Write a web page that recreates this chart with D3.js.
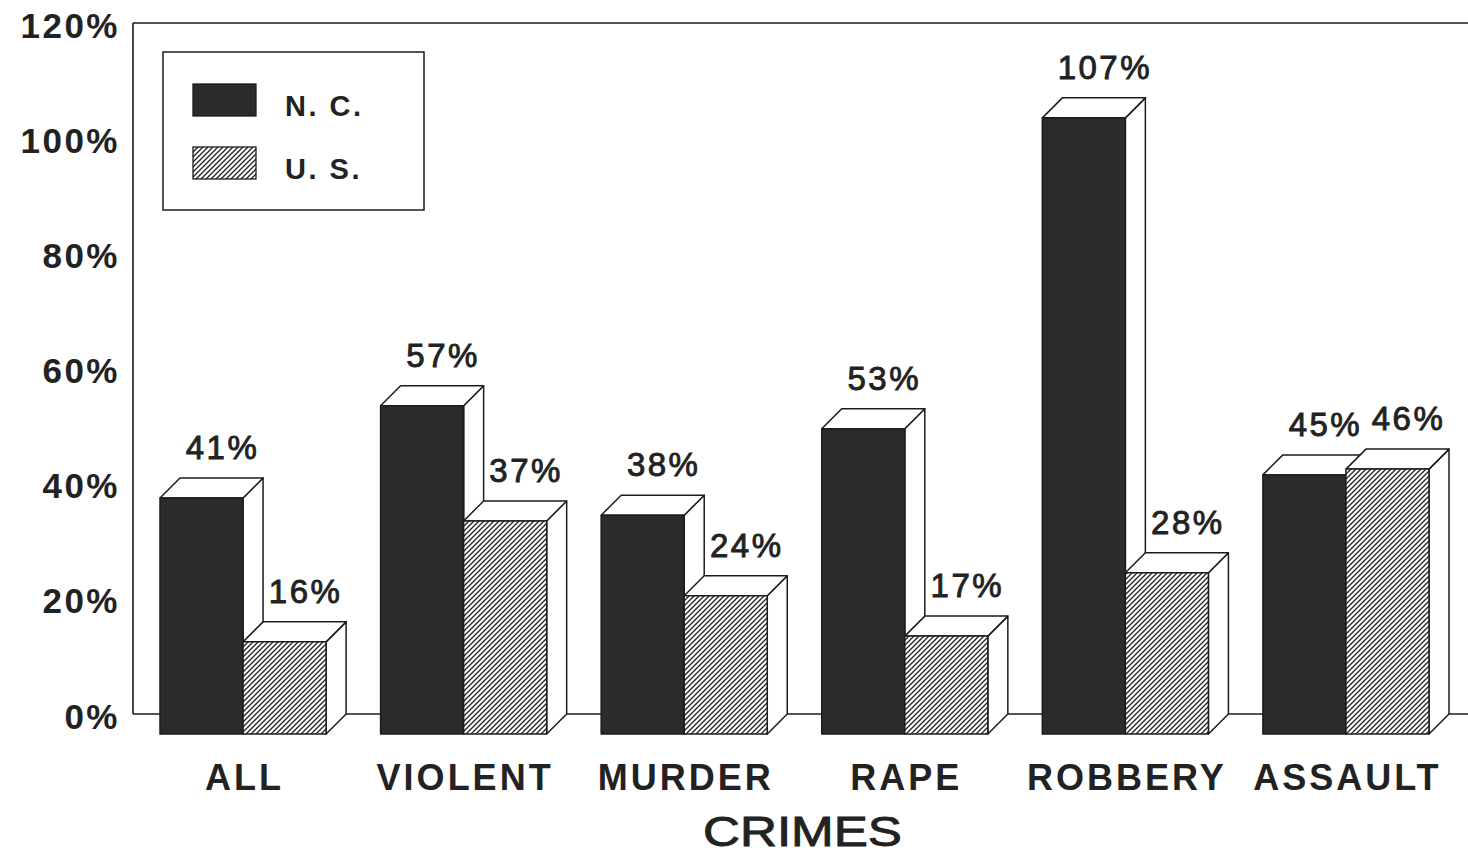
<!DOCTYPE html>
<html>
<head>
<meta charset="utf-8">
<script src="https://cdn.jsdelivr.net/npm/d3@7"></script>
<style>
  html, body { margin: 0; padding: 0; background: #fff; }
  svg { display: block; }
  text { font-family: "Liberation Sans", Arial, Helvetica, sans-serif; fill: #222; }
</style>
</head>
<body>
<svg id="chart" width="1468" height="858"></svg>
<script>
// Percentage change in crime, North Carolina vs. United States
const categories = ["ALL", "VIOLENT", "MURDER", "RAPE", "ROBBERY", "ASSAULT"];
const ncValues = [41, 57, 38, 53, 107, 45];
const usValues = [16, 37, 24, 17, 28, 46];
const seriesNames = ["N. C.", "U. S."];
const yTickValues = [0, 20, 40, 60, 80, 100, 120];
const xAxisTitle = "CRIMES";

const svg = d3.select("#chart");
const ink = "#1c1c1c";
const darkFill = "#2b2b2b";
const depth = 20;          // 3-D offset of the back face (right and up)

// scales
const y = d3.scaleLinear().domain([0, 120]).range([714, 23]);
const x = d3.scaleBand().domain(categories).range([160, 1429]).paddingInner(0.247).paddingOuter(0);
const xs = d3.scaleBand().domain(seriesNames).range([0, x.bandwidth()]).padding(0);

const plotLeft = 133, plotRight = 1468;

// hatch pattern for U.S. bars
const defs = svg.append("defs");
const pat = defs.append("pattern")
  .attr("id", "hatch")
  .attr("patternUnits", "userSpaceOnUse")
  .attr("width", 5).attr("height", 5);
pat.append("rect").attr("width", 5).attr("height", 5).attr("fill", "#fff");
pat.append("path")
  .attr("d", "M-1,1 l2,-2 M0,5 l5,-5 M4,6 l2,-2")
  .attr("stroke", "#222").attr("stroke-width", 1.3);

// frame: left axis, top line, baseline
svg.append("line").attr("x1", plotLeft).attr("x2", plotLeft).attr("y1", y(120)).attr("y2", y(0))
  .attr("stroke", ink).attr("stroke-width", 1.6);
svg.append("line").attr("x1", plotLeft).attr("x2", plotRight).attr("y1", y(120)).attr("y2", y(120))
  .attr("stroke", ink).attr("stroke-width", 1.6);
svg.append("line").attr("x1", plotLeft).attr("x2", plotRight).attr("y1", y(0)).attr("y2", y(0))
  .attr("stroke", ink).attr("stroke-width", 1.6);

// y axis labels
const yAxis = d3.axisLeft(y).tickValues(yTickValues).tickSize(0).tickPadding(0)
  .tickFormat(d => d + "%");
const yg = svg.append("g").attr("transform", `translate(${plotLeft},0)`).call(yAxis);
yg.select(".domain").remove();
yg.selectAll("text")
  .attr("x", -13)
  .attr("dy", "0.40em")
  .attr("font-family", "'Liberation Sans', Arial, sans-serif")
  .attr("font-size", 35)
  .attr("font-weight", "bold")
  .attr("letter-spacing", 2.5)
  .attr("fill", "#222");

// 3-D bar
function bar3d(g, x0, w, v, fillFront) {
  const y0 = y(0), yb = y(v);
  const stroke = { stroke: ink, "stroke-width": 1.5, "stroke-linejoin": "round" };
  const side = [[x0 + w, yb + depth], [x0 + w + depth, yb], [x0 + w + depth, y0], [x0 + w, y0 + depth]];
  const top = [[x0, yb + depth], [x0 + depth, yb], [x0 + w + depth, yb], [x0 + w, yb + depth]];
  const poly = pts => "M" + pts.map(p => p.join(",")).join("L") + "Z";
  const s = g.append("path").attr("d", poly(side)).attr("fill", "#fff");
  const t = g.append("path").attr("d", poly(top)).attr("fill", "#fff");
  const f = g.append("rect").attr("x", x0).attr("y", yb + depth)
    .attr("width", w).attr("height", y0 - yb).attr("fill", fillFront);
  [s, t, f].forEach(el => Object.entries(stroke).forEach(([k, val]) => el.attr(k, val)));
}

const barsG = svg.append("g");
categories.forEach((c, i) => {
  const g = barsG.append("g");
  const vals = [ncValues[i], usValues[i]];
  const fills = [darkFill, "url(#hatch)"];
  seriesNames.forEach((s, j) => {
    bar3d(g, x(c) + xs(s), xs.bandwidth(), vals[j], fills[j]);
  });
});

// value labels above the back face of each bar
const labelsG = svg.append("g");
categories.forEach((c, i) => {
  const vals = [ncValues[i], usValues[i]];
  seriesNames.forEach((s, j) => {
    labelsG.append("text")
      .attr("x", x(c) + xs(s) + depth + xs.bandwidth() / 2 + 1)
      .attr("y", y(vals[j]) - 19)
      .attr("text-anchor", "middle")
      .attr("font-size", 33)
      .attr("letter-spacing", 2.5)
      .attr("stroke", "#222").attr("stroke-width", 0.9)
      .text(vals[j] + "%");
  });
});

// category labels
svg.append("g").selectAll("text").data(categories).join("text")
  .attr("x", d => x(d) + x.bandwidth() / 2 + 1.5)
  .attr("y", 790)
  .attr("text-anchor", "middle")
  .attr("font-size", 36)
  .attr("font-weight", "bold")
  .attr("letter-spacing", 3)
  .text(d => d);

// axis title
svg.append("text")
  .attr("x", 703)
  .attr("y", 846)
  .attr("font-size", 43)
  .attr("textLength", 199)
  .attr("lengthAdjust", "spacingAndGlyphs")
  .attr("stroke", "#222").attr("stroke-width", 0.9)
  .text(xAxisTitle);

// legend
const lg = svg.append("g");
lg.append("rect").attr("x", 163).attr("y", 52).attr("width", 261).attr("height", 158)
  .attr("fill", "#fff").attr("stroke", ink).attr("stroke-width", 1.5);
const legendFills = [darkFill, "url(#hatch)"];
const legendRows = [84, 147];
seriesNames.forEach((s, j) => {
  lg.append("rect").attr("x", 193).attr("y", legendRows[j]).attr("width", 63).attr("height", 32)
    .attr("fill", legendFills[j]).attr("stroke", ink).attr("stroke-width", 1.3);
  lg.append("text").attr("x", 285).attr("y", legendRows[j] + 32)
    .attr("font-size", 29).attr("font-weight", "bold").attr("letter-spacing", 2.5)
    .text(s);
});
</script>
</body>
</html>
